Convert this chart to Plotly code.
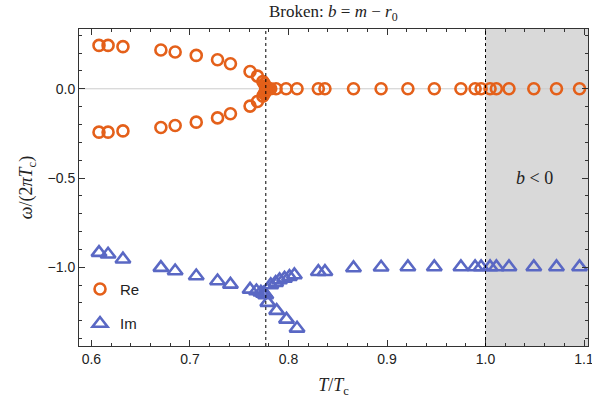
import plotly.graph_objects as go

# ---- data ----
re_T = [0.6077, 0.6169, 0.632, 0.6705, 0.685, 0.7064, 0.728, 0.7411, 0.761, 0.7685, 0.774, 0.7755, 0.7765, 0.777,
        0.6077, 0.6169, 0.632, 0.6705, 0.685, 0.7064, 0.728, 0.7411, 0.761, 0.7685, 0.774, 0.7755, 0.7765, 0.777,
        0.7775, 0.778, 0.779, 0.780, 0.782, 0.7874, 0.7976, 0.8087, 0.8303, 0.837, 0.866, 0.894, 0.9212, 0.948,
        0.975, 0.9894, 0.9955, 1.0046, 1.011, 1.0238, 1.049, 1.072, 1.0954]
re_w = [0.243, 0.243, 0.236, 0.217, 0.206, 0.187, 0.163, 0.140, 0.097, 0.071, 0.041, 0.028, 0.016, 0.007,
        -0.243, -0.243, -0.236, -0.217, -0.206, -0.187, -0.163, -0.140, -0.097, -0.071, -0.041, -0.028, -0.016, -0.007,
        0.0, 0.0, 0.0, 0.0, 0.0, 0.0, 0.0, 0.0, 0.0, 0.0, 0.0, 0.0, 0.0, 0.0,
        0.0, 0.0, 0.0, 0.0, 0.0, 0.0, 0.0, 0.0, 0.0]

im_T = [0.6077, 0.6169, 0.632, 0.6705, 0.685, 0.7064, 0.728, 0.7411, 0.761, 0.7675, 0.772, 0.7745, 0.776, 0.777,
        0.779, 0.788, 0.798, 0.8087,
        0.782, 0.787, 0.791, 0.796, 0.801, 0.806,
        0.8303, 0.837, 0.866, 0.894, 0.9212, 0.948, 0.975, 0.9894, 0.9955, 1.0046, 1.011, 1.0238, 1.049, 1.072, 1.0954]
im_w = [-0.918, -0.927, -0.955, -1.002, -1.021, -1.049, -1.077, -1.096, -1.124, -1.133, -1.14, -1.146, -1.15, -1.155,
        -1.198, -1.243, -1.292, -1.342,
        -1.099, -1.086, -1.071, -1.062, -1.053, -1.043,
        -1.025, -1.025, -1.004, -1.0, -0.998, -0.998, -0.998, -0.998, -0.998, -0.998, -0.998, -0.998, -0.998, -0.998, -0.998]

T_CRIT = 0.777
T_C = 1.0
X_RANGE = [0.5874, 1.104]
Y_RANGE = [-1.441, 0.335]

ORANGE = "#e4601a"
BLUE = "#5a68c4"

fig = go.Figure()
fig.add_trace(go.Scatter(x=re_T, y=re_w, mode="markers", name="Re", legendgroup="re",
                         marker=dict(symbol="circle-open", size=11, color=ORANGE, line=dict(width=2.6, color=ORANGE))))
fig.add_trace(go.Scatter(x=im_T, y=im_w, mode="markers", name="Im", legendgroup="im",
                         marker=dict(symbol="triangle-up-open", size=13, color=BLUE, line=dict(width=2.6, color=BLUE))))

# shaded b<0 region, reference lines
fig.add_shape(type="rect", xref="x", yref="paper", x0=T_C, x1=X_RANGE[1], y0=0, y1=1,
              fillcolor="#d9d9d9", line_width=0, layer="below")
fig.add_shape(type="line", xref="x", yref="y", x0=X_RANGE[0], x1=X_RANGE[1], y0=0, y1=0,
              line=dict(color="#cccccc", width=1), layer="below")
for xv in (T_CRIT, T_C):
    fig.add_shape(type="line", xref="x", yref="paper", x0=xv, x1=xv, y0=0, y1=1,
                  line=dict(color="black", width=1, dash="dot"), layer="above")

fig.add_annotation(x=1.05, y=-0.5, xref="x", yref="y", text="<i>b</i> &lt; 0", showarrow=False,
                   font=dict(family="Liberation Serif", size=18, color="#222"))
fig.add_annotation(x=0.5, y=1.0, xref="paper", yref="paper", yanchor="bottom", yshift=3,
                   text="Broken: <i>b</i> = <i>m</i> − <i>r</i><sub>0</sub>", showarrow=False,
                   font=dict(family="Liberation Serif", size=17, color="#222"))

axis_common = dict(showgrid=False, zeroline=False, ticks="inside", mirror="allticks", showline=True,
                   linecolor="#333", linewidth=1, tickcolor="#333", ticklen=6, automargin=False,
                   ticklabeloverflow="allow",
                   tickfont=dict(family="Liberation Sans", size=14, color="#222"))
fig.update_xaxes(range=X_RANGE, dtick=0.1, tickformat=".1f",
                 minor=dict(dtick=0.02, ticks="inside", ticklen=3, tickcolor="#333"),
                 title=dict(text="<i>T</i>/<i>T</i><sub>c</sub>", font=dict(family="Liberation Serif", size=18, color="#222"), standoff=12),
                 **axis_common)
fig.update_yaxes(range=Y_RANGE, dtick=0.5, tickformat=".1f",
                 minor=dict(dtick=0.1, ticks="inside", ticklen=3, tickcolor="#333"),
                 title=dict(text="<i>ω</i>/(2<i>πT</i><sub>c</sub>)", font=dict(family="Liberation Serif", size=18, color="#222"), standoff=10),
                 **axis_common)

fig.update_layout(width=592, height=401, margin=dict(l=79, r=4, t=29, b=55),
                  paper_bgcolor="white", plot_bgcolor="white",
                  legend=dict(x=0.002, y=0.231, xanchor="left", yanchor="top", bgcolor="rgba(0,0,0,0)",
                              font=dict(family="Liberation Sans", size=15, color="#222"),
                              tracegroupgap=12, traceorder="grouped"),
                  showlegend=True)

fig.write_html("out.html", config={"displayModeBar": False},
               post_script="document.body.style.margin='0px';document.body.style.overflow='hidden';")
